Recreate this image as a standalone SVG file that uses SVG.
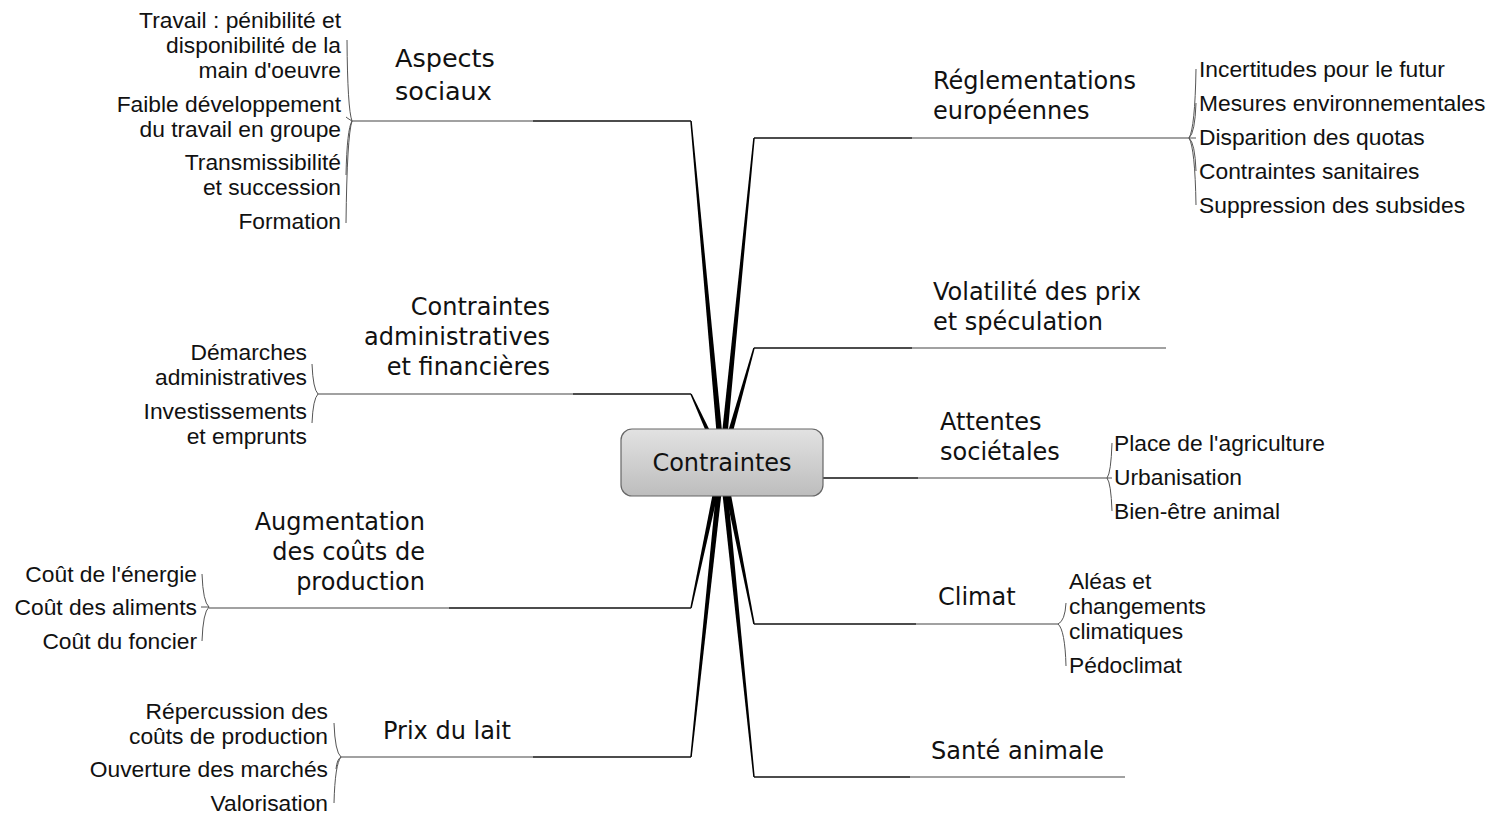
<svg xmlns="http://www.w3.org/2000/svg" width="1495" height="816" viewBox="0 0 1495 816">
<style>
.bg{fill:#ffffff}
.main{font-family:"DejaVu Sans",sans-serif;font-size:24px;fill:#111}
.big{font-size:25.5px}
.sub{font-family:"Liberation Sans",Arial,sans-serif;font-size:22.8px;fill:#111}
.end{text-anchor:end}
.taper{fill:#000}
.hdark{stroke:#111;stroke-width:1.6;fill:none}
.hlight{stroke:#444;stroke-width:1.1;fill:none}
.br{stroke:#555;stroke-width:1;fill:none}
.center-box{fill:url(#g);stroke:#666;stroke-width:1.2}
.center-text{font-family:"DejaVu Sans",sans-serif;font-size:24px;fill:#111;text-anchor:middle}
</style>
<defs>
<linearGradient id="g" x1="0" y1="0" x2="0" y2="1">
<stop offset="0" stop-color="#e2e2e2"/>
<stop offset="1" stop-color="#bdbdbd"/>
</linearGradient>
</defs>
<rect class="bg" x="0" y="0" width="1495" height="816"/>
<g id="connectors">
<path class="taper" d="M690.25,121.07 L691.75,120.93 L724.99,461.73 L719.01,462.27 Z"/>
<path class="taper" d="M690.32,394.31 L691.68,393.69 L724.73,460.75 L719.27,463.25 Z"/>
<path class="taper" d="M691.73,608.16 L690.27,607.84 L719.07,461.38 L724.93,462.62 Z"/>
<path class="taper" d="M691.75,757.08 L690.25,756.92 L719.02,461.69 L724.98,462.31 Z"/>
<path class="taper" d="M753.25,137.93 L754.75,138.07 L724.99,462.29 L719.01,461.71 Z"/>
<path class="taper" d="M753.28,347.80 L754.72,348.20 L724.89,462.81 L719.11,461.19 Z"/>
<path class="taper" d="M754.74,623.85 L753.26,624.15 L719.06,462.58 L724.94,461.42 Z"/>
<path class="taper" d="M754.75,776.92 L753.25,777.08 L719.02,462.30 L724.98,461.70 Z"/>
<path class="hdark" d="M533,121 H691"/>
<path class="hlight" d="M352,121 H533"/>
<path class="hdark" d="M573,394 H691"/>
<path class="hlight" d="M318,394 H573"/>
<path class="hdark" d="M449,608 H691"/>
<path class="hlight" d="M209,608 H449"/>
<path class="hdark" d="M533,757 H691"/>
<path class="hlight" d="M341,757 H533"/>
<path class="hdark" d="M754,138 H912"/>
<path class="hlight" d="M912,138 H1189"/>
<path class="hdark" d="M754,348 H912"/>
<path class="hlight" d="M912,348 H1166"/>
<path class="hdark" d="M823,478 H918"/>
<path class="hlight" d="M918,478 H1107"/>
<path class="hdark" d="M754,624 H916"/>
<path class="hlight" d="M916,624 H1058"/>
<path class="hdark" d="M754,777 H910"/>
<path class="hlight" d="M910,777 H1125"/>
<path class="br" d="M352,121 Q347.5,109 347,40"/>
<path class="br" d="M352,121 Q347,118 346,117"/>
<path class="br" d="M352,121 Q347,129 346,175"/>
<path class="br" d="M352,121 Q347,136 346,223"/>
<path class="br" d="M318,394 Q313,389 312,364"/>
<path class="br" d="M318,394 Q313,399 312,423"/>
<path class="br" d="M209,607 Q203,602 202,574"/>
<path class="br" d="M209,607 H201"/>
<path class="br" d="M209,607 Q203,612 202,641"/>
<path class="br" d="M341,757 Q335,752 334,723"/>
<path class="br" d="M341,757 Q337,759 336,769"/>
<path class="br" d="M341,757 Q335,764 334,803"/>
<path class="br" d="M1189,138 Q1195,128 1196,69"/>
<path class="br" d="M1189,138 Q1195,133 1196,103"/>
<path class="br" d="M1189,138 H1196"/>
<path class="br" d="M1189,138 Q1195,143 1196,171"/>
<path class="br" d="M1189,138 Q1195,148 1196,205"/>
<path class="br" d="M1107,478 Q1111,473 1112,443"/>
<path class="br" d="M1107,478 H1112"/>
<path class="br" d="M1107,478 Q1111,483 1112,511"/>
<path class="br" d="M1058,624 Q1065,621 1066,603"/>
<path class="br" d="M1058,624 Q1065,630 1066,666"/>
</g>
<g id="center">
<rect class="center-box" x="621" y="429" width="202" height="67" rx="11"/>
<text class="center-text" x="722" y="471">Contraintes</text>
</g>
<g id="aspects-sociaux">
<text class="main big" x="395" y="67">Aspects</text>
<text class="main big" x="395" y="100">sociaux</text>
</g>
<g id="aspects-children">
<text class="sub end" x="341" y="28">Travail : pénibilité et</text>
<text class="sub end" x="341" y="53">disponibilité de la</text>
<text class="sub end" x="341" y="78">main d'oeuvre</text>
<text class="sub end" x="341" y="112">Faible développement</text>
<text class="sub end" x="341" y="137">du travail en groupe</text>
<text class="sub end" x="341" y="170">Transmissibilité</text>
<text class="sub end" x="341" y="195">et succession</text>
<text class="sub end" x="341" y="229">Formation</text>
</g>
<g id="contraintes-admin">
<text class="main end" x="550" y="315">Contraintes</text>
<text class="main end" x="550" y="345">administratives</text>
<text class="main end" x="550" y="375">et financières</text>
</g>
<g id="admin-children">
<text class="sub end" x="307" y="360">Démarches</text>
<text class="sub end" x="307" y="385">administratives</text>
<text class="sub end" x="307" y="419">Investissements</text>
<text class="sub end" x="307" y="444">et emprunts</text>
</g>
<g id="augmentation">
<text class="main end" x="425" y="530">Augmentation</text>
<text class="main end" x="425" y="560">des coûts de</text>
<text class="main end" x="425" y="590">production</text>
</g>
<g id="augmentation-children">
<text class="sub end" x="197" y="582">Coût de l'énergie</text>
<text class="sub end" x="197" y="615">Coût des aliments</text>
<text class="sub end" x="197" y="649">Coût du foncier</text>
</g>
<g id="prix-lait">
<text class="main" x="383" y="739">Prix du lait</text>
</g>
<g id="prix-children">
<text class="sub end" x="328" y="719">Répercussion des</text>
<text class="sub end" x="328" y="744">coûts de production</text>
<text class="sub end" x="328" y="777">Ouverture des marchés</text>
<text class="sub end" x="328" y="811">Valorisation</text>
</g>
<g id="reglementations">
<text class="main" x="933" y="89">Réglementations</text>
<text class="main" x="933" y="119">européennes</text>
</g>
<g id="reglementations-children">
<text class="sub" x="1199" y="77">Incertitudes pour le futur</text>
<text class="sub" x="1199" y="111">Mesures environnementales</text>
<text class="sub" x="1199" y="145">Disparition des quotas</text>
<text class="sub" x="1199" y="179">Contraintes sanitaires</text>
<text class="sub" x="1199" y="213">Suppression des subsides</text>
</g>
<g id="volatilite">
<text class="main" x="933" y="300">Volatilité des prix</text>
<text class="main" x="933" y="330">et spéculation</text>
</g>
<g id="attentes">
<text class="main" x="940" y="430">Attentes</text>
<text class="main" x="940" y="460">sociétales</text>
</g>
<g id="attentes-children">
<text class="sub" x="1114" y="451">Place de l'agriculture</text>
<text class="sub" x="1114" y="485">Urbanisation</text>
<text class="sub" x="1114" y="519">Bien-être animal</text>
</g>
<g id="climat">
<text class="main" x="938" y="605">Climat</text>
</g>
<g id="climat-children">
<text class="sub" x="1069" y="589">Aléas et</text>
<text class="sub" x="1069" y="614">changements</text>
<text class="sub" x="1069" y="639">climatiques</text>
<text class="sub" x="1069" y="673">Pédoclimat</text>
</g>
<g id="sante">
<text class="main" x="931" y="759">Santé animale</text>
</g>
</svg>
